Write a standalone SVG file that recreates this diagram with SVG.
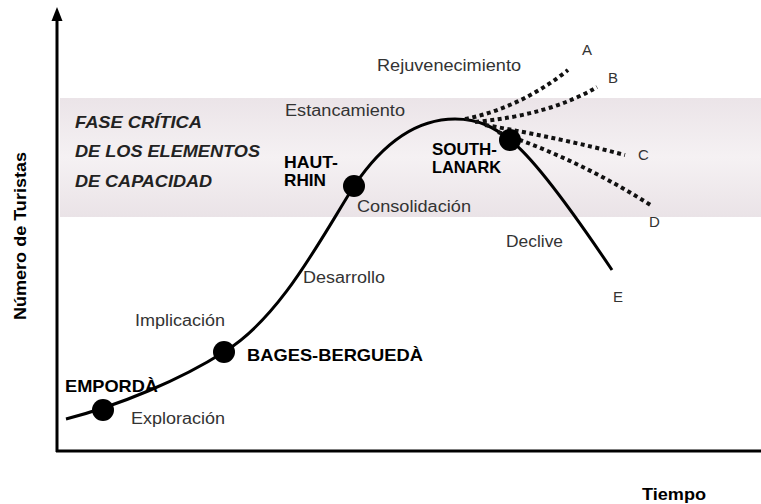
<svg xmlns="http://www.w3.org/2000/svg" width="761" height="504" viewBox="0 0 761 504">
<style>
.lbl{font-family:"Liberation Sans",Arial,sans-serif;font-size:16px;fill:#333}
.let{font-family:"Liberation Sans",Arial,sans-serif;font-size:15px;fill:#333}
.bold{font-family:"Liberation Sans",Arial,sans-serif;font-size:17px;font-weight:bold;fill:#000}
.bi{font-family:"Liberation Sans",Arial,sans-serif;font-size:17px;font-weight:bold;font-style:italic;fill:#222}
.axis{stroke:#000;stroke-width:3;fill:none}
.curve{stroke:#000;stroke-width:3;fill:none}
.dot{stroke:#111;stroke-width:4;stroke-dasharray:4 3.5;fill:none}
.pt{fill:#000}
</style>
<defs>
<linearGradient id="band" x1="0" y1="0" x2="0" y2="1">
<stop offset="0" stop-color="#ebe4e8"/>
<stop offset="0.5" stop-color="#f5f1f3"/>
<stop offset="1" stop-color="#eae3e7"/>
</linearGradient>
</defs>
<rect width="761" height="504" fill="#fff"/>
<rect id="band-rect" x="60" y="98" width="701" height="119" fill="url(#band)"/>
<g id="band-label">
<text class="bi" x="75" y="128" textLength="127" lengthAdjust="spacingAndGlyphs">FASE CRÍTICA</text>
<text class="bi" x="75" y="157" textLength="185" lengthAdjust="spacingAndGlyphs">DE LOS ELEMENTOS</text>
<text class="bi" x="75" y="187" textLength="137" lengthAdjust="spacingAndGlyphs">DE CAPACIDAD</text>
</g>
<g id="axes">
<line class="axis" x1="57" y1="452" x2="57" y2="18"/>
<polygon points="57,7 51.5,21 62.5,21" fill="#000"/>
<line class="axis" x1="56" y1="451" x2="761" y2="451"/>
<text class="bold" x="642" y="500" textLength="64" lengthAdjust="spacingAndGlyphs">Tiempo</text>
<text class="bold" transform="translate(26,320) rotate(-90)" x="0" y="0" textLength="168" lengthAdjust="spacingAndGlyphs">Número de Turistas</text>
</g>
<g id="connectors">
<path class="curve" d="M66,419 C120,405 180,380 224,352 C280,318 320,240 354,186 C385,140 420,119 455,119 C480,119 495,128 510,140 C530,155 565,200 612,270"/>
<path class="dot" d="M465,119 Q520,108 568,70"/>
<path class="dot" d="M475,122 Q550,115 597,87"/>
<path class="dot" d="M485,125 Q560,138 625,155"/>
<path class="dot" d="M498,132 Q580,160 652,206"/>
</g>
<g id="stage-labels">
<text class="lbl" x="377" y="71" textLength="144" lengthAdjust="spacingAndGlyphs">Rejuvenecimiento</text>
<text class="lbl" x="285" y="116" textLength="120" lengthAdjust="spacingAndGlyphs">Estancamiento</text>
<text class="lbl" x="357" y="212" textLength="114" lengthAdjust="spacingAndGlyphs">Consolidación</text>
<text class="lbl" x="506" y="247" textLength="57" lengthAdjust="spacingAndGlyphs">Declive</text>
<text class="lbl" x="303" y="283" textLength="82" lengthAdjust="spacingAndGlyphs">Desarrollo</text>
<text class="lbl" x="135" y="326" textLength="90" lengthAdjust="spacingAndGlyphs">Implicación</text>
<text class="lbl" x="131" y="424" textLength="94" lengthAdjust="spacingAndGlyphs">Exploración</text>
</g>
<g id="scenario-labels">
<text class="let" x="582" y="55">A</text>
<text class="let" x="608" y="83">B</text>
<text class="let" x="638" y="160">C</text>
<text class="let" x="649" y="227">D</text>
<text class="let" x="613" y="302">E</text>
</g>
<g id="emporda">
<circle class="pt" cx="103" cy="410" r="11"/>
<text class="bold" x="65" y="392" textLength="93" lengthAdjust="spacingAndGlyphs">EMPORDÀ</text>
</g>
<g id="bages-bergueda">
<circle class="pt" cx="224" cy="352" r="11"/>
<text class="bold" x="247" y="361" textLength="176" lengthAdjust="spacingAndGlyphs">BAGES-BERGUEDÀ</text>
</g>
<g id="haut-rhin">
<circle class="pt" cx="354" cy="186" r="11"/>
<text class="bold" x="284" y="168" textLength="54" lengthAdjust="spacingAndGlyphs">HAUT-</text>
<text class="bold" x="284" y="186" textLength="42" lengthAdjust="spacingAndGlyphs">RHIN</text>
</g>
<g id="south-lanark">
<circle class="pt" cx="510" cy="140" r="11"/>
<text class="bold" x="432" y="155" textLength="65" lengthAdjust="spacingAndGlyphs">SOUTH-</text>
<text class="bold" x="432" y="173" textLength="69" lengthAdjust="spacingAndGlyphs">LANARK</text>
</g>
</svg>
